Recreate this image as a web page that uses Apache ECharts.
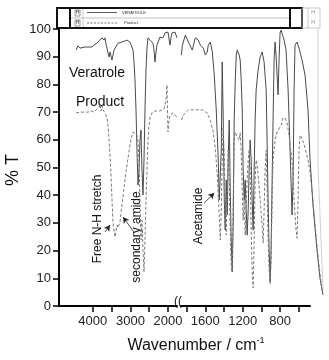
<!DOCTYPE html>
<html>
<head>
<meta charset="utf-8">
<title>IR spectra</title>
<script src="https://cdn.jsdelivr.net/npm/echarts@6/dist/echarts.min.js"></script>
<style>
html, body { margin: 0; padding: 0; background: #fff; }
#chart { width: 329px; height: 360px; }
</style>
</head>
<body>
<div id="chart"></div>
<script>
// [wavenumber cm-1, %T]
// left panel 4900-1760, right panel 1860-480 (broken axis); the trace runs a bit past 480
const veratroleHigh = [
  [4447, 92.4], [4394, 93.9], [4341, 93.1], [4288, 93.5], [4208, 93.5], [4128, 93.5], [4075, 93.9],
  [4022, 93.5], [3968, 94.2], [3915, 94.6], [3889, 94.9], [3835, 95.7], [3809, 96.0], [3782, 95.3],
  [3756, 96.8], [3729, 97.1], [3702, 96.0], [3676, 96.8], [3649, 94.6], [3623, 93.1], [3596, 91.3],
  [3569, 89.9], [3543, 91.7], [3516, 92.4], [3490, 88.8], [3463, 90.6], [3436, 92.4], [3410, 93.1],
  [3330, 94.9], [3224, 95.3], [3091, 96.0], [3011, 95.3], [2931, 92.4], [2904, 88.1], [2878, 81.6],
  [2851, 70.8], [2825, 56.3], [2798, 43.7], [2771, 49.1], [2745, 59.9], [2718, 63.5], [2692, 49.1],
  [2665, 40.1], [2638, 52.7], [2612, 70.8], [2585, 85.2], [2559, 93.1], [2532, 96.8], [2479, 96.0],
  [2399, 94.9], [2372, 92.4], [2346, 88.1], [2319, 91.7], [2293, 94.2], [2213, 97.1], [2133, 96.8],
  [2080, 98.6], [2000, 98.9], [1947, 94.2], [1920, 96.8], [1894, 98.6], [1814, 98.9], [1760, 96.8]
];
const veratroleLow = [
  [1856, 90.6], [1845, 94.2], [1813, 97.8], [1781, 95.3], [1739, 92.4], [1707, 96.8], [1675, 96.0],
  [1653, 94.2], [1621, 93.1], [1600, 90.6], [1579, 91.7], [1568, 94.2], [1547, 95.3], [1525, 91.7],
  [1504, 83.4], [1483, 70.8], [1461, 52.7], [1451, 38.3], [1440, 47.3], [1429, 56.3], [1419, 88.1],
  [1408, 67.1], [1397, 38.3], [1387, 27.4], [1376, 45.5], [1365, 32.9], [1355, 52.7], [1344, 67.1],
  [1333, 41.9], [1323, 23.8], [1312, 12.3], [1301, 31.0], [1291, 67.1], [1280, 80.9], [1269, 90.6],
  [1259, 92.4], [1237, 90.6], [1227, 88.8], [1216, 81.6], [1205, 70.8], [1195, 49.1], [1184, 38.3],
  [1173, 45.5], [1163, 34.7], [1152, 25.6], [1141, 34.7], [1131, 49.1], [1120, 59.9], [1109, 52.7],
  [1099, 38.3], [1088, 27.4], [1077, 49.1], [1067, 67.1], [1056, 78.0], [1035, 85.2], [1013, 89.9],
  [992, 91.7], [971, 88.1], [949, 78.0], [939, 59.9], [928, 38.3], [917, 20.2], [906, 8.7],
  [896, 20.2], [885, 45.5], [875, 67.1], [864, 88.8], [853, 95.3], [843, 90.6], [832, 83.4],
  [821, 76.2], [811, 88.8], [800, 98.6], [789, 99.6], [779, 98.9], [757, 96.0], [736, 92.4],
  [714, 78.0], [693, 56.3], [672, 32.9], [661, 45.5], [650, 78.0], [640, 94.2], [618, 95.3],
  [597, 93.1], [565, 88.8], [533, 83.4], [501, 70.8], [480, 53.4], [448, 36.5], [405, 20.2],
  [373, 10.1], [341, 4.0]
];
const productHigh = [
  [4447, 69.7], [4394, 69.0], [4341, 70.0], [4288, 69.3], [4234, 70.0], [4181, 69.7], [4128, 70.0],
  [4075, 69.7], [4022, 70.4], [3968, 70.0], [3915, 70.8], [3862, 70.4], [3835, 71.5], [3809, 72.9],
  [3782, 70.4], [3756, 72.2], [3729, 70.8], [3702, 71.5], [3676, 69.7], [3649, 70.0], [3623, 67.9],
  [3596, 65.3], [3569, 59.9], [3543, 54.5], [3516, 47.3], [3490, 38.3], [3463, 30.3], [3410, 24.9],
  [3357, 29.2], [3330, 28.2], [3277, 30.3], [3224, 36.5], [3170, 42.6], [3117, 48.4], [3064, 53.4],
  [3011, 58.1], [2958, 61.7], [2931, 62.8], [2878, 62.5], [2825, 61.7], [2798, 59.2], [2771, 52.7],
  [2745, 38.3], [2718, 23.8], [2692, 31.0], [2665, 20.2], [2638, 12.3], [2612, 23.8], [2585, 38.3],
  [2559, 49.1], [2532, 59.9], [2505, 65.3], [2479, 67.9], [2426, 69.7], [2346, 70.4], [2293, 70.8],
  [2213, 70.4], [2160, 70.4], [2106, 71.1], [2053, 74.4], [2027, 79.8], [2000, 62.8], [1973, 67.1],
  [1947, 68.9], [1867, 69.7], [1814, 69.7], [1760, 68.2]
];
const productLow = [
  [1856, 67.1], [1835, 69.0], [1781, 70.8], [1707, 70.8], [1632, 70.8], [1579, 69.7], [1547, 67.1],
  [1515, 62.8], [1493, 57.0], [1472, 47.3], [1451, 32.9], [1440, 23.8], [1429, 34.7], [1419, 52.7],
  [1408, 64.6], [1397, 52.7], [1387, 34.7], [1376, 25.6], [1365, 41.9], [1355, 56.3], [1344, 45.5],
  [1333, 27.4], [1323, 14.8], [1312, 12.3], [1301, 38.3], [1291, 59.9], [1280, 62.8], [1259, 61.0],
  [1237, 59.9], [1227, 62.5], [1216, 56.3], [1205, 41.9], [1195, 31.0], [1184, 38.3], [1173, 25.6],
  [1163, 34.7], [1152, 45.5], [1141, 52.7], [1131, 56.3], [1120, 49.1], [1109, 27.4], [1099, 13.0],
  [1088, 6.5], [1077, 23.8], [1067, 45.5], [1056, 52.7], [1045, 50.9], [1035, 47.3], [1013, 38.3],
  [992, 29.2], [981, 22.7], [971, 34.7], [960, 49.1], [949, 56.3], [939, 41.9], [928, 23.8],
  [917, 13.0], [906, 7.9], [896, 16.6], [885, 38.3], [875, 52.7], [853, 59.9], [832, 62.8],
  [811, 63.5], [789, 65.3], [768, 67.9], [746, 67.9], [725, 66.1], [704, 61.7], [693, 58.1],
  [672, 52.7], [650, 38.3], [629, 27.4], [618, 24.5], [608, 38.3], [597, 56.3], [586, 61.7],
  [565, 60.6], [533, 57.0], [501, 52.7], [480, 48.4], [448, 38.3], [416, 25.6], [384, 14.8],
  [352, 5.8]
];

const highTicks = [4000, 3500, 3000, 2500, 2000];
const highLabels = [4000, 3000, 2000];
const lowTicks = [1800, 1600, 1400, 1200, 1000, 800, 600];
const lowLabels = [1600, 1200, 800];

// arrows: [from, to] in [wavenumber, %T]
const arrowNH = [[3676, 26.7], [3543, 29.2]];
const arrowAmide = [[2904, 26.7], [3197, 32.1]];
const arrowAcetamide = [[1611, 37.2], [1504, 40.8]];

const FONT = '"Liberation Sans", Arial, sans-serif';
const VER_COLOR = '#4a4a4a';
const PRO_COLOR = '#7a7a7a';

const chart = echarts.init(document.getElementById('chart'));

function xAxisCfg(grid, min, max, ticks, labels) {
  return {
    type: 'value', gridIndex: grid, min, max, inverse: true,
    axisLine: { show: true, onZero: false, lineStyle: { color: '#000', width: 2 } },
    axisTick: { show: true, length: 6, customValues: ticks, lineStyle: { color: '#000', width: 1.5 } },
    axisLabel: {
      customValues: labels, fontSize: 13, color: '#222', margin: 9, fontFamily: FONT,
      formatter: v => String(v)
    },
    splitLine: { show: false }
  };
}

function arrowLine(pair) {
  return [{ coord: pair[0], symbol: 'none' }, { coord: pair[1], symbol: 'arrow' }];
}

const arrowStyle = {
  silent: true,
  symbolSize: [5, 6],
  label: { show: false },
  lineStyle: { color: '#222', width: 0.8, type: 'solid' },
  animation: false
};

const textStyle = { fill: '#111', align: 'center', verticalAlign: 'middle', fontFamily: FONT };

const option = {
  animation: false,
  backgroundColor: '#fff',
  grid: [
    { left: 59, top: 29, width: 118, height: 277 },
    // visible right axis ends at 480
    { left: 181, top: 29, width: 129, height: 277 },
    // same scale, a little wider so the traces can run past 480
    { left: 181, top: 29, width: 143, height: 277 }
  ],
  xAxis: [
    xAxisCfg(0, 1760, 4900, highTicks, highLabels),
    xAxisCfg(1, 480, 1860, lowTicks, lowLabels),
    { type: 'value', gridIndex: 2, min: 330, max: 1860, inverse: true, show: false }
  ],
  yAxis: [
    {
      type: 'value', gridIndex: 0, min: 0, max: 100, interval: 10,
      axisLine: { show: true, lineStyle: { color: '#000', width: 2 } },
      axisTick: { show: true, length: 6, lineStyle: { color: '#000', width: 1.5 } },
      axisLabel: { fontSize: 13, color: '#222', margin: 8, fontFamily: FONT },
      splitLine: { show: false }
    },
    { type: 'value', gridIndex: 1, min: 0, max: 100, show: false },
    { type: 'value', gridIndex: 2, min: 0, max: 100, show: false }
  ],
  series: [
    {
      type: 'line', xAxisIndex: 0, yAxisIndex: 0, data: veratroleHigh, showSymbol: false,
      lineStyle: { color: VER_COLOR, width: 1 }
    },
    {
      type: 'line', xAxisIndex: 0, yAxisIndex: 0, data: productHigh, showSymbol: false,
      lineStyle: { color: PRO_COLOR, width: 1, type: [3, 2] },
      markLine: { ...arrowStyle, data: [arrowLine(arrowNH), arrowLine(arrowAmide)] }
    },
    {
      type: 'line', xAxisIndex: 2, yAxisIndex: 2, data: veratroleLow, showSymbol: false,
      lineStyle: { color: VER_COLOR, width: 1 }
    },
    {
      type: 'line', xAxisIndex: 2, yAxisIndex: 2, data: productLow, showSymbol: false,
      lineStyle: { color: PRO_COLOR, width: 1, type: [3, 2] },
      markLine: { ...arrowStyle, data: [arrowLine(arrowAcetamide)] }
    }
  ],
  graphic: [
    // legend box from the original software screenshot
    { type: 'rect', shape: { x: 57, y: 8, width: 245, height: 20 }, style: { fill: 'none', stroke: '#111', lineWidth: 2 } },
    { type: 'line', shape: { x1: 70, y1: 8, x2: 70, y2: 28 }, style: { stroke: '#111', lineWidth: 2 } },
    { type: 'line', shape: { x1: 290, y1: 8, x2: 290, y2: 28 }, style: { stroke: '#111', lineWidth: 2 } },
    { type: 'line', shape: { x1: 71, y1: 18, x2: 289, y2: 18 }, style: { stroke: '#999', lineWidth: 0.6 } },
    { type: 'line', shape: { x1: 83, y1: 9, x2: 83, y2: 27 }, style: { stroke: '#aaa', lineWidth: 0.6 } },
    { type: 'rect', shape: { x: 75, y: 10, width: 5, height: 6 }, style: { fill: 'none', stroke: '#555', lineWidth: 0.6 } },
    { type: 'rect', shape: { x: 75, y: 20, width: 5, height: 6 }, style: { fill: 'none', stroke: '#555', lineWidth: 0.6 } },
    { type: 'text', x: 77.5, y: 13, style: { ...textStyle, text: 'H', fontSize: 5, fill: '#333' } },
    { type: 'text', x: 77.5, y: 23, style: { ...textStyle, text: 'H', fontSize: 5, fill: '#333' } },
    { type: 'line', shape: { x1: 87, y1: 12.5, x2: 117, y2: 12.5 }, style: { stroke: '#333', lineWidth: 0.8 } },
    { type: 'line', shape: { x1: 87, y1: 23, x2: 118, y2: 23 }, style: { stroke: '#555', lineWidth: 0.8, lineDash: [2, 1.5] } },
    { type: 'text', x: 122, y: 12.5, style: { ...textStyle, align: 'left', text: 'VERATROLE', fontSize: 4, fill: '#333' } },
    { type: 'text', x: 124, y: 23, style: { ...textStyle, align: 'left', text: 'Product', fontSize: 4, fill: '#333' } },
    { type: 'rect', shape: { x: 302, y: 8, width: 18, height: 20 }, style: { fill: 'none', stroke: '#bbb', lineWidth: 0.8 } },
    { type: 'line', shape: { x1: 308, y1: 8, x2: 308, y2: 28 }, style: { stroke: '#bbb', lineWidth: 0.8 } },
    { type: 'text', x: 313, y: 13, style: { ...textStyle, text: 'H', fontSize: 5, fill: '#888' } },
    { type: 'text', x: 313, y: 23, style: { ...textStyle, text: 'H', fontSize: 5, fill: '#888' } },
    { type: 'polyline', shape: { points: [[318, 28], [318, 165], [323, 290]] }, style: { fill: 'none', stroke: '#c4c4c4', lineWidth: 0.8 } },
    // axis break mark
    { type: 'text', x: 178, y: 302, style: { ...textStyle, text: '((', fontSize: 12 } },
    // titles and labels
    { type: 'text', x: 13, y: 170, rotation: Math.PI / 2, style: { ...textStyle, text: '% T', fontSize: 18 } },
    {
      type: 'text', x: 196, y: 345,
      style: {
        ...textStyle,
        text: '{a|Wavenumber / cm}{b|-1}',
        rich: {
          a: { fontSize: 16, fill: '#111', fontFamily: FONT, lineHeight: 18, verticalAlign: 'bottom' },
          b: { fontSize: 9, fill: '#111', fontFamily: FONT, verticalAlign: 'top' }
        }
      }
    },
    { type: 'text', x: 97, y: 73, style: { ...textStyle, text: 'Veratrole', fontSize: 14 } },
    { type: 'text', x: 100, y: 102, style: { ...textStyle, text: 'Product', fontSize: 14 } },
    { type: 'text', x: 98, y: 219, rotation: Math.PI / 2, style: { ...textStyle, text: 'Free N-H stretch', fontSize: 12 } },
    { type: 'text', x: 137, y: 237, rotation: Math.PI / 2, style: { ...textStyle, text: 'secondary amide', fontSize: 12 } },
    { type: 'text', x: 199, y: 216, rotation: Math.PI / 2, style: { ...textStyle, text: 'Acetamide', fontSize: 12 } }
  ]
};

chart.setOption(option);
</script>
</body>
</html>
